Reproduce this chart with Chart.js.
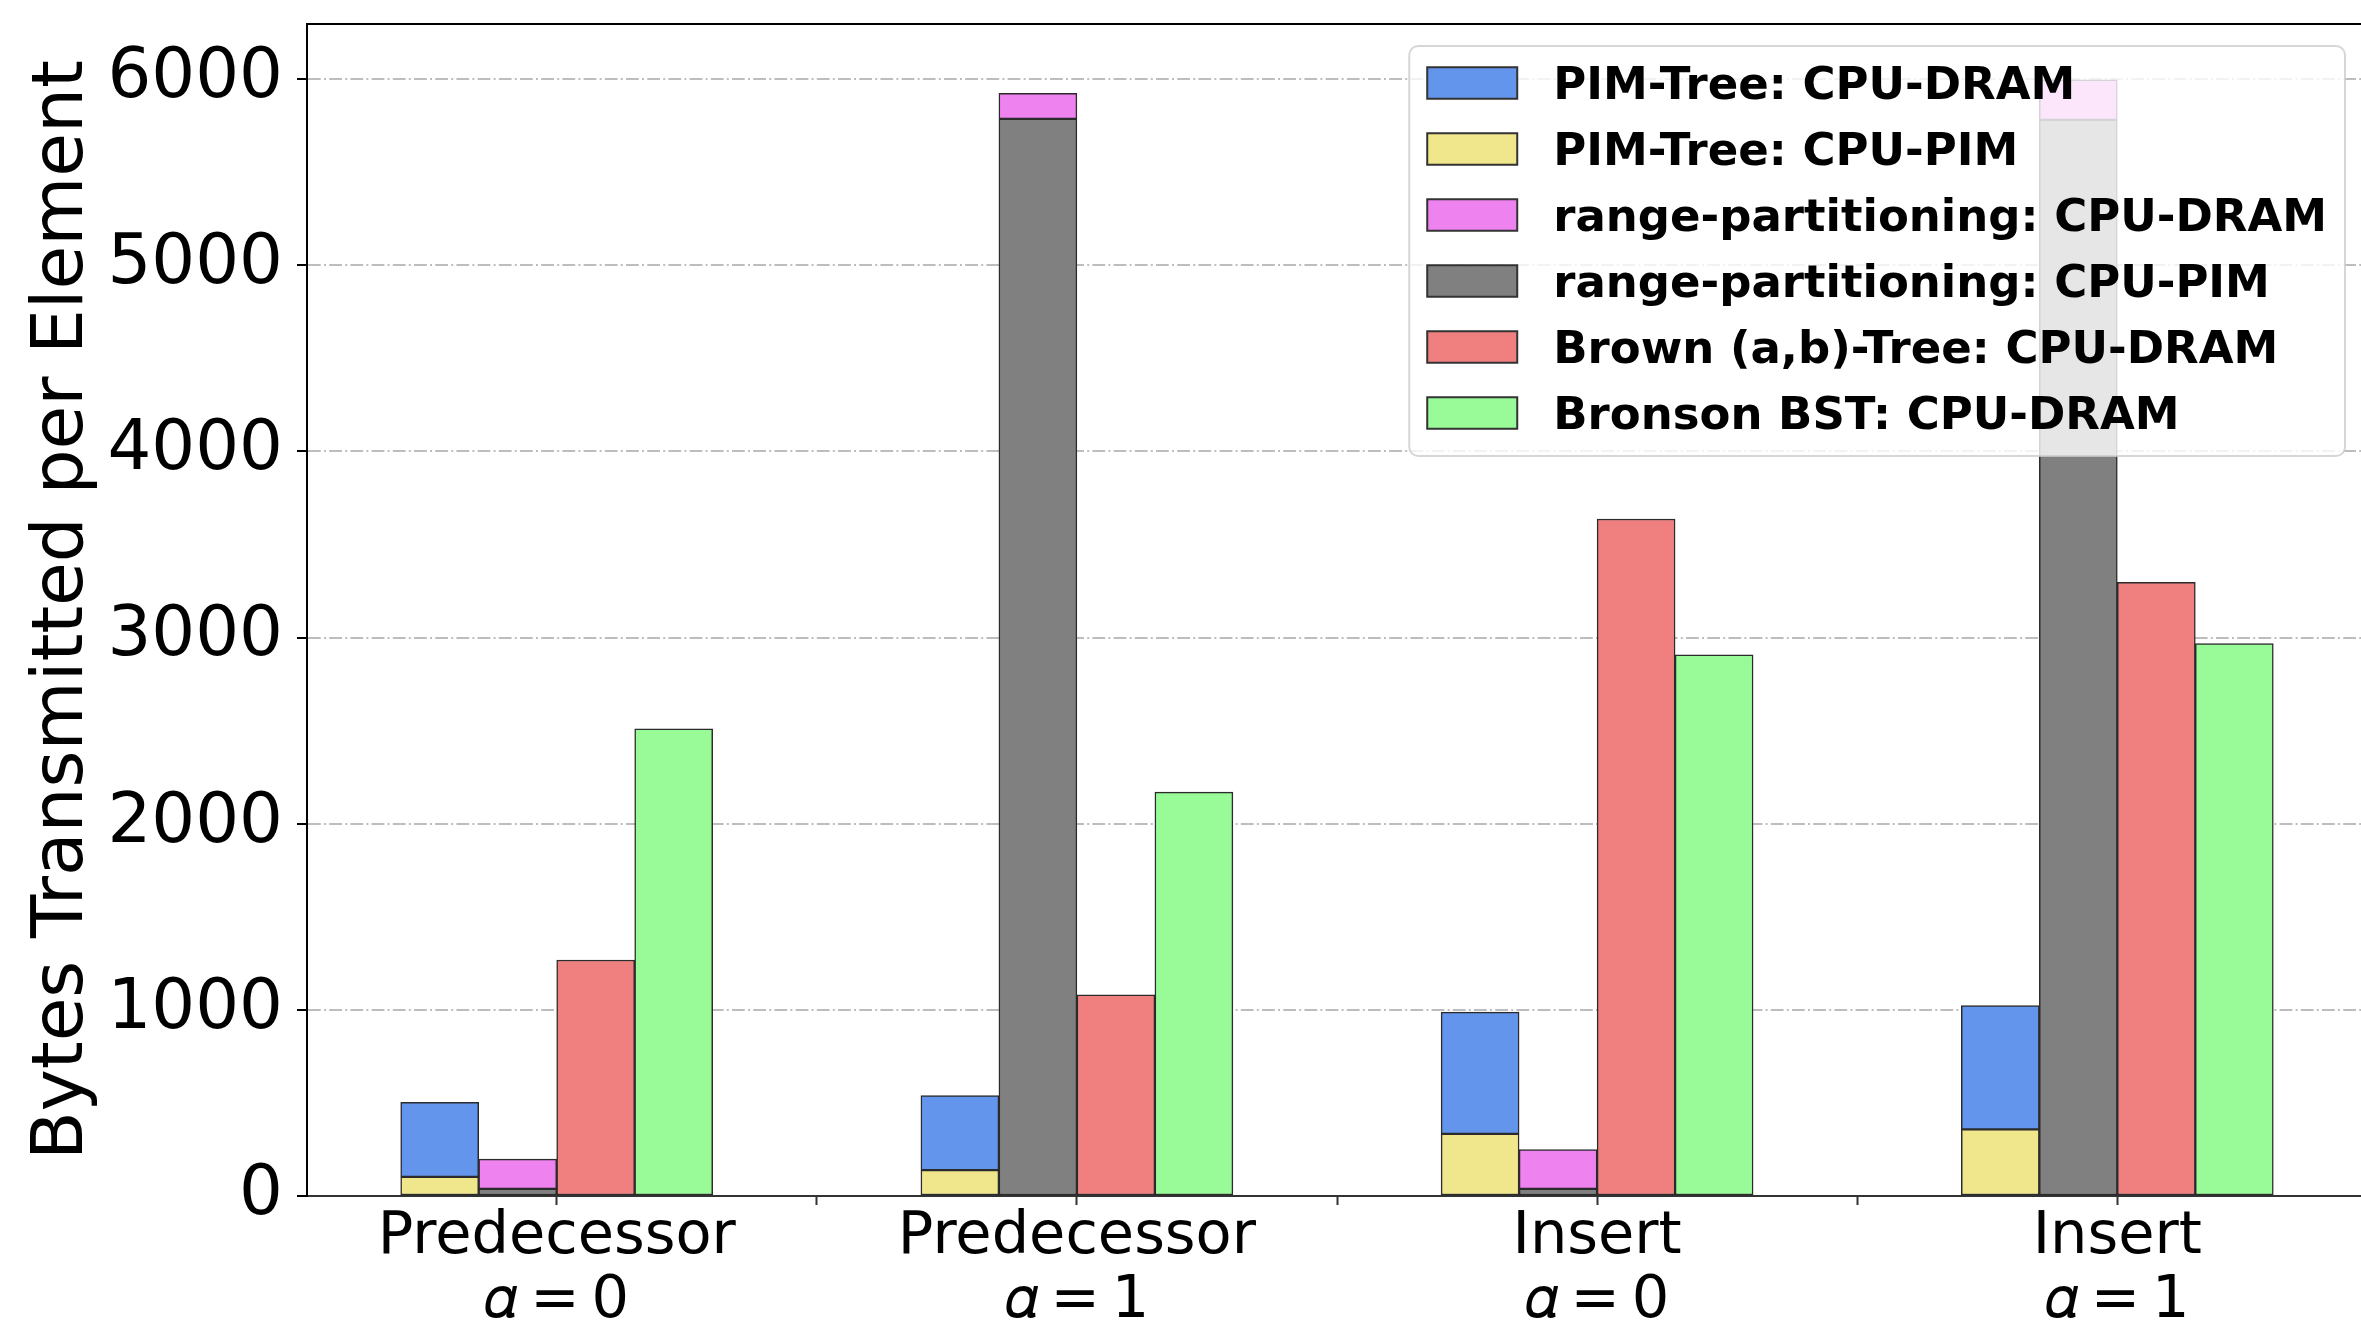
<!DOCTYPE html>
<html>
<head>
<meta charset="utf-8">
<script src="https://cdn.jsdelivr.net/npm/chart.js@4.4.1/dist/chart.umd.min.js"></script>
<style>
    html, body { margin: 0; padding: 0; overflow: hidden; background: #fff; }
    #wrap { width: 2380px; height: 1326px; }
</style>
</head>
<body>
<div id="wrap"><canvas id="bytesChart" width="2380" height="1326"></canvas></div>
<script>
var operations = ['Predecessor', 'Predecessor', 'Insert', 'Insert'];
var alphaLabels = ['\u{1D6FC}\u2009=\u20090', '\u{1D6FC}\u2009=\u20091', '\u{1D6FC}\u2009=\u20090', '\u{1D6FC}\u2009=\u20091'];

// bytes per element, one value per operation above
var pimTreeCpuPim = [103, 139, 334, 358];
var pimTreeCpuDram = [400, 400, 654, 665];
var rangePartCpuPim = [38, 5786, 38, 5781];
var rangePartCpuDram = [160, 138, 211, 215];
var brownCpuDram = [1268, 1081, 3637, 3297];
var bronsonCpuDram = [2509, 2170, 2907, 2967];

var yTicks = [0, 1000, 2000, 3000, 4000, 5000, 6000];

function toPoints(values) {
    return values.map(function (v, i) { return { x: i, y: v }; });
}

// a tick on every group and one between groups
var xTickPositions = [];
operations.forEach(function (op, i) {
    xTickPositions.push(i);
    if (i < operations.length - 1) xTickPositions.push(i + 0.5);
});

// stacking order: first dataset of a stack sits at the bottom
var datasets = [
    { label: 'PIM-Tree: CPU-PIM', data: toPoints(pimTreeCpuPim), backgroundColor: '#F0E68C', stack: 'pim' },
    { label: 'PIM-Tree: CPU-DRAM', data: toPoints(pimTreeCpuDram), backgroundColor: '#6495ED', stack: 'pim' },
    { label: 'range-partitioning: CPU-PIM', data: toPoints(rangePartCpuPim), backgroundColor: '#808080', stack: 'range' },
    { label: 'range-partitioning: CPU-DRAM', data: toPoints(rangePartCpuDram), backgroundColor: '#EE82EE', stack: 'range' },
    { label: 'Brown (a,b)-Tree: CPU-DRAM', data: toPoints(brownCpuDram), backgroundColor: '#F08080', stack: 'brown' },
    { label: 'Bronson BST: CPU-DRAM', data: toPoints(bronsonCpuDram), backgroundColor: '#98FB98', stack: 'bronson' }
];
var legendOrder = [1, 0, 3, 2, 4, 5];

// top/right spines and the boxed legend inside the plot
var frameAndLegend = {
    id: 'frameAndLegend',
    afterDraw: function (chart) {
        var ctx = chart.ctx;
        var area = chart.chartArea;
        ctx.save();
        ctx.strokeStyle = '#000';
        ctx.lineWidth = 2;
        ctx.beginPath();
        ctx.moveTo(area.left, area.top);
        ctx.lineTo(area.right, area.top);
        ctx.lineTo(area.right, area.bottom);
        ctx.stroke();

        var fs = 45;
        ctx.font = 'bold ' + fs + 'px "DejaVu Sans"';
        var maxW = 0;
        legendOrder.forEach(function (idx) {
            maxW = Math.max(maxW, ctx.measureText(chart.data.datasets[idx].label).width);
        });
        var pad = 0.4 * fs, handleW = 2 * fs, handleH = 0.7 * fs, textPad = 0.8 * fs, rowStep = 66;
        var boxW = pad * 2 + handleW + textPad + maxW;
        var boxH = 410;
        var right = area.right - 22;
        var top = area.top + 22;
        var left = right - boxW;

        ctx.beginPath();
        ctx.roundRect(left, top, boxW, boxH, 9);
        ctx.fillStyle = 'rgba(255,255,255,0.8)';
        ctx.fill();
        ctx.strokeStyle = 'rgba(204,204,204,0.8)';
        ctx.lineWidth = 2;
        ctx.stroke();

        legendOrder.forEach(function (idx, k) {
            var ds = chart.data.datasets[idx];
            var cy = top + 37 + k * rowStep;
            ctx.fillStyle = ds.backgroundColor;
            ctx.fillRect(left + pad, cy - handleH / 2, handleW, handleH);
            ctx.strokeStyle = '#333';
            ctx.lineWidth = 2;
            ctx.strokeRect(left + pad, cy - handleH / 2, handleW, handleH);
            ctx.fillStyle = '#000';
            ctx.textBaseline = 'alphabetic';
            ctx.textAlign = 'left';
            ctx.fillText(ds.label, left + pad + handleW + textPad, cy + 0.36 * fs);
        });
        ctx.restore();
    }
};

Chart.defaults.font.family = '"DejaVu Sans"';
Chart.defaults.color = '#000';

var chartElement = document.getElementById('bytesChart').getContext('2d');
var chartObject = new Chart(chartElement, {
    type: 'bar',
    data: { datasets: datasets },
    plugins: [frameAndLegend],
    options: {
        responsive: false,
        maintainAspectRatio: false,
        animation: false,
        layout: { padding: { top: 24, right: 13, bottom: 0, left: 0 } },
        plugins: {
            legend: { display: false },
            tooltip: { enabled: false }
        },
        datasets: {
            bar: { barThickness: 78, borderWidth: 1.5, borderColor: '#2b2b2b', borderSkipped: false }
        },
        scales: {
            x: {
                type: 'linear',
                stacked: true,
                offset: false,
                min: -0.48,
                max: 3.48,
                bounds: 'data',
                afterBuildTicks: function (scale) {
                    scale.ticks = xTickPositions.map(function (v) { return { value: v }; });
                },
                afterFit: function (scale) {
                    scale.height = 130;
                    scale.paddingLeft = 0;
                    scale.paddingRight = 0;
                },
                grid: { offset: false, drawOnChartArea: false, drawTicks: true, tickLength: 9, tickColor: '#333', tickWidth: 2 },
                border: { color: '#333', width: 2 },
                ticks: {
                    autoSkip: false,
                    maxRotation: 0,
                    minRotation: 0,
                    padding: 1,
                    color: '#000',
                    font: { size: 59, lineHeight: 1.08 },
                    callback: function (v) {
                        return Number.isInteger(v) ? [operations[v], alphaLabels[v]] : '';
                    }
                }
            },
            y: {
                stacked: true,
                min: 0,
                max: 6296,
                afterBuildTicks: function (scale) {
                    scale.ticks = yTicks.map(function (v) { return { value: v }; });
                },
                afterFit: function (scale) {
                    scale.width = 307;
                    scale.paddingTop = 0;
                    scale.paddingBottom = 0;
                },
                grid: { color: '#bdbdbd', lineWidth: 2, drawTicks: true, tickLength: 10, tickColor: '#000', tickWidth: 2 },
                border: { color: '#000', width: 2, dash: [12.8, 3.2, 2, 3.2] },
                ticks: {
                    padding: 14,
                    color: '#000',
                    font: { size: 69 },
                    callback: function (v) { return String(v); }
                },
                title: {
                    display: true,
                    text: 'Bytes Transmitted per Element',
                    color: '#000',
                    font: { size: 71 },
                    padding: { top: 21, bottom: 0 }
                }
            }
        }
    }
});
</script>
</body>
</html>
